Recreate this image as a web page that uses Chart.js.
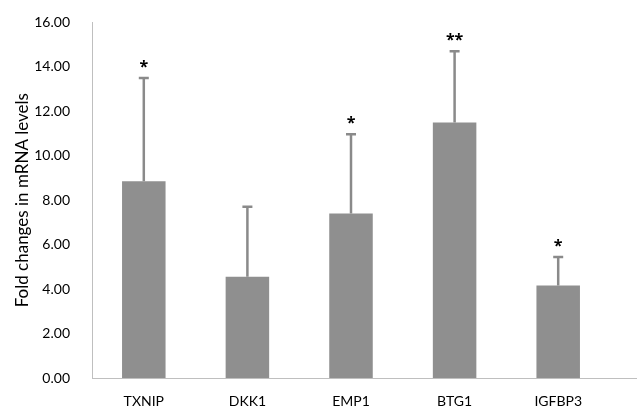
<!DOCTYPE html>
<html>
<head>
<meta charset="utf-8">
<script src="https://cdn.jsdelivr.net/npm/chart.js@4"></script>
<style>
  html, body { margin: 0; padding: 0; background: #fff; }
  #wrap { width: 639px; height: 414px; }
</style>
</head>
<body>
<div id="wrap"><canvas id="foldChart"></canvas></div>
<script>
const genes = ['TXNIP', 'DKK1', 'EMP1', 'BTG1', 'IGFBP3'];
const foldChange = [8.85, 4.56, 7.40, 11.50, 4.16];
const errorUp = [4.65, 3.14, 3.57, 3.20, 1.28];
const significance = ['*', '', '*', '**', '*'];
const yTicks = [0, 2, 4, 6, 8, 10, 12, 14, 16];

const FONT = "Lato, 'Open Sans', sans-serif";

// 위쪽 오차막대 + 유의성 별표
const errorBarPlugin = {
  id: 'errorBars',
  afterDatasetsDraw(chart) {
    const ctx = chart.ctx;
    const y = chart.scales.y;
    const meta = chart.getDatasetMeta(0);
    ctx.save();
    meta.data.forEach((bar, i) => {
      const x = bar.x;
      const top = y.getPixelForValue(foldChange[i] + errorUp[i]);
      ctx.strokeStyle = '#8a8a8a';
      ctx.lineWidth = 2.5;
      ctx.beginPath();
      ctx.moveTo(x, bar.y);
      ctx.lineTo(x, top);
      ctx.moveTo(x - 5, top);
      ctx.lineTo(x + 5, top);
      ctx.stroke();
      if (significance[i]) {
        ctx.fillStyle = '#000';
        ctx.font = "bold 16px 'Open Sans', sans-serif";
        ctx.textAlign = 'center';
        ctx.textBaseline = 'middle';
        ctx.fillText(significance[i], x, top - 11);
      }
    });
    // x축 선은 오른쪽 끝까지
    const a = chart.chartArea;
    ctx.strokeStyle = '#bfbfbf';
    ctx.lineWidth = 1;
    ctx.beginPath();
    ctx.moveTo(a.left, Math.round(a.bottom) + 0.5);
    ctx.lineTo(chart.width - 2, Math.round(a.bottom) + 0.5);
    ctx.stroke();
    ctx.restore();
  }
};

new Chart(document.getElementById('foldChart'), {
  type: 'bar',
  data: {
    labels: genes,
    datasets: [{
      data: foldChange,
      backgroundColor: '#8f8f8f',
      borderWidth: 0,
      categoryPercentage: 1.0,
      barPercentage: 0.42,
    }]
  },
  options: {
    responsive: true,
    maintainAspectRatio: false,
    animation: false,
    layout: { padding: { top: 16, right: 29, bottom: 0, left: 12 } },
    plugins: {
      legend: { display: false },
      tooltip: { enabled: false }
    },
    scales: {
      x: {
        grid: { display: false },
        border: { color: '#bfbfbf' },
        ticks: { color: '#000', font: { family: FONT, size: 14 }, padding: 7 },
        afterFit: s => { s.height = 36; }
      },
      y: {
        min: 0,
        max: 16,
        afterBuildTicks: s => { s.ticks = yTicks.map(v => ({ value: v })); },
        grid: { display: false },
        border: { color: '#bfbfbf' },
        ticks: {
          color: '#000',
          font: { family: FONT, size: 14 },
          padding: 14,
          callback: v => v.toFixed(2)
        },
        title: {
          display: true,
          text: 'Fold changes in mRNA levels',
          color: '#000',
          font: { family: FONT, size: 17 },
          padding: { top: 0, bottom: 4 }
        },
        afterFit: s => { s.width = 80; }
      }
    }
  },
  plugins: [errorBarPlugin]
});
</script>
</body>
</html>
